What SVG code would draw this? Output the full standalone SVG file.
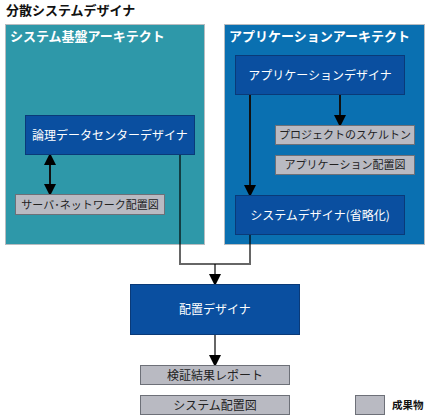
<svg xmlns="http://www.w3.org/2000/svg" width="430" height="420" viewBox="0 0 430 420">
<style>
text{font-family:"Noto Sans CJK JP","Noto Sans",sans-serif}
.title{font-size:13px;font-weight:bold;fill:#111}
.hdr{font-size:13px;font-weight:bold;fill:#fff}
.cont{stroke:#b8bcc0;stroke-width:1}
.node{fill:#0a4fa0;stroke:#0a3a78;stroke-width:1}
.nt{font-size:12px;fill:#fff;text-anchor:middle}
.art{fill:#b9bac2;stroke:#6d7078;stroke-width:1}
.at{font-size:11px;fill:#222;text-anchor:middle}
.at2{font-size:12px;fill:#222;text-anchor:middle}
.ln{fill:none;stroke:#000;stroke-opacity:0.6;stroke-width:2}
.lnd{fill:none;stroke:#111;stroke-width:2}
</style>
<defs>
<marker id="ahv" markerWidth="12" markerHeight="12" refX="10" refY="6" orient="auto-start-reverse" markerUnits="userSpaceOnUse" viewBox="0 0 12 12">
<path d="M0,0 L12,6 L0,12 Z" fill="#000"/>
</marker>
</defs>
<text class="title" x="6" y="15">分散システムデザイナ</text>
<g id="infra-arch">
<rect class="cont" x="5.5" y="24.5" width="199" height="220" fill="#2e98a9"/>
<text class="hdr" x="10" y="41">システム基盤アーキテクト</text>
</g>
<g id="app-arch">
<rect class="cont" x="224.5" y="24.5" width="200" height="220" fill="#0a70b1"/>
<text class="hdr" x="229" y="41">アプリケーションアーキテクト</text>
</g>
<g id="connectors">
<polyline class="ln" points="180,155 180,264 250,264 250,235"/>
<line class="ln" x1="215" y1="264" x2="215" y2="284" marker-end="url(#ahv)"/>
<line class="ln" x1="215" y1="335" x2="215" y2="365" marker-end="url(#ahv)"/>
<line class="lnd" x1="50" y1="155" x2="50" y2="194" marker-start="url(#ahv)" marker-end="url(#ahv)"/>
<line class="lnd" x1="340" y1="95" x2="340" y2="125" marker-end="url(#ahv)"/>
<line class="lnd" x1="250" y1="95" x2="250" y2="195" marker-end="url(#ahv)"/>
</g>
<g id="logical-dc-designer">
<rect class="node" x="25.5" y="115.5" width="169" height="39"/>
<text class="nt" x="110" y="140">論理データセンターデザイナ</text>
</g>
<g id="server-network-diagram">
<rect class="art" x="15.5" y="194.5" width="149" height="20"/>
<text class="at" x="90" y="208.5">サーバ･ネットワーク配置図</text>
</g>
<g id="app-designer">
<rect class="node" x="235.5" y="55.5" width="169" height="39"/>
<text class="nt" x="320" y="80">アプリケーションデザイナ</text>
</g>
<g id="project-skeleton">
<rect class="art" x="275.5" y="125.5" width="139" height="19"/>
<text class="at" x="345" y="139">プロジェクトのスケルトン</text>
</g>
<g id="app-deploy-diagram">
<rect class="art" x="275.5" y="155.5" width="139" height="19"/>
<text class="at" x="345" y="169">アプリケーション配置図</text>
</g>
<g id="system-designer">
<rect class="node" x="235.5" y="195.5" width="169" height="39"/>
<text class="nt" x="320" y="220">システムデザイナ(省略化)</text>
</g>
<g id="deploy-designer">
<rect class="node" x="130.5" y="284.5" width="169" height="50"/>
<text class="nt" x="215" y="314">配置デザイナ</text>
</g>
<g id="verify-report">
<rect class="art" x="140.5" y="365.5" width="149" height="19"/>
<text class="at2" x="215" y="379.5">検証結果レポート</text>
</g>
<g id="system-deploy-diagram">
<rect class="art" x="140.5" y="395.5" width="149" height="19"/>
<text class="at2" x="215" y="409.5">システム配置図</text>
</g>
<g id="legend">
<rect class="art" x="355.5" y="395.5" width="29" height="19"/>
<text x="392" y="409" style="font-size:10.5px;font-weight:bold;fill:#111">成果物</text>
</g>
</svg>
